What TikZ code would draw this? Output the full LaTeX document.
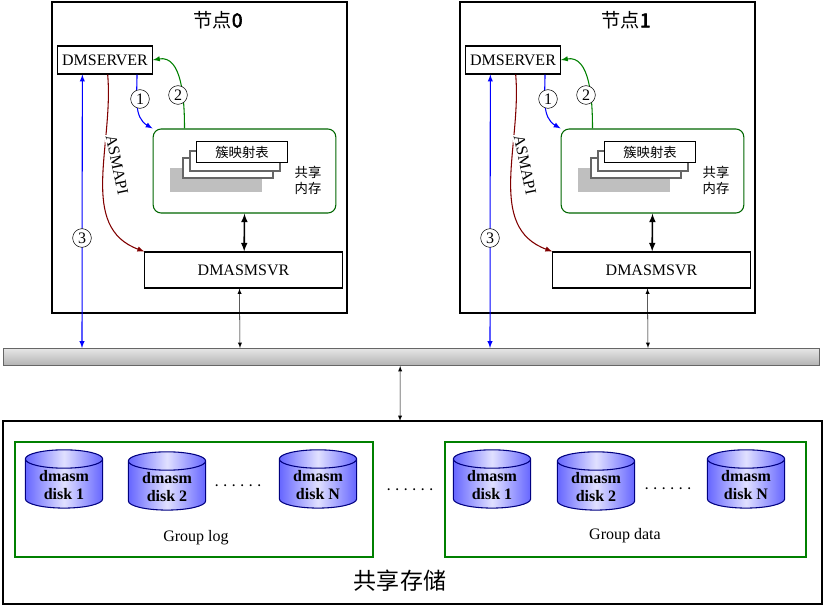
\documentclass[tikz,border=0pt]{standalone}
\usepackage{fontspec}
\setmainfont{Liberation Serif}
\newfontfamily\cjk{Noto Sans CJK SC}
\newfontfamily\cjkb{Noto Sans CJK SC}[AutoFakeBold=3]
\usetikzlibrary{shapes.geometric}
\usetikzlibrary{positioning}

\begin{document}
\begin{tikzpicture}[x=0.75pt,y=-0.75pt,
        host/.style={rectangle, draw=black, line width=1.4pt},
        proc/.style={rectangle, draw=black, fill=white, thick, font=\large},
        shm/.style={rectangle, rounded corners=6pt, draw=green!40!black, thick},
        card/.style={rectangle, draw=black, fill=white, minimum width=68pt, minimum height=15pt, font=\cjk\normalsize},
        stepmark/.style={circle, draw=black, fill=white, inner sep=0.5pt, minimum size=14pt, font=\large},
        disk/.style={cylinder, shape border rotate=90, aspect=0.35, draw=blue!50!black, thick, left color=blue!60, right color=blue!60, middle color=blue!12, minimum width=58pt, minimum height=42pt, align=center, font=\bfseries\large, inner sep=1pt},
        group/.style={rectangle, draw=green!50!black, thick},
        link/.style={<->, >=latex, black}
      ]
        \useasboundingbox (0,0) rectangle (824,606);

        \foreach \i/\dx in {0/0, 1/408} {
          \begin{scope}[xshift=\dx*0.75pt]
            \draw[host] (52,2) rectangle (347,313);
            \node[font=\cjkb\Large] (title\i) at (218,20) {节点\textbf{\i}};
            \node[proc, minimum width=70pt, minimum height=21pt] (srv\i) at (105,60) {DMSERVER};
            \node[shm, minimum width=137pt, minimum height=63pt] (shm\i) at (244.5,171) {};
            \node[font=\cjk\normalsize, align=center] (shmlabel\i) at (308,180) {共享\\内存};
            \fill[black!25] (170,168) rectangle (262,192);
            \draw[black!60, fill=white, thick] (183,158) rectangle (273,178);
            \draw[black!60, fill=white, thick] (190,151) rectangle (280,171);
            \node[card] (map\i) at (242,152) {簇映射表};
            \node[proc, minimum width=148pt, minimum height=27pt] (asm\i) at (243.5,270) {DMASMSVR};

            \coordinate (bus\i a) at (82,348);
            \coordinate (bus\i b) at (240,348);

            \draw[blue, thick, ->, >=latex] ([xshift=24pt]srv\i.south) to[out=-90, in=150] (shm\i.north west);
            \node[stepmark] (s1\i) at (140,99) {1};
            \draw[green!50!black, thick, ->, >=latex] ([xshift=-45pt]shm\i.north) to[out=90, in=10] (srv\i.east);
            \node[stepmark] (s2\i) at (178,95) {2};
            \draw[red!50!black, thick, ->, >=latex] ([xshift=2pt]srv\i.south) to[out=-85, in=160] (asm\i.north west);
            \node[rotate=-78, fill=white, inner sep=1pt, font=\large] (api\i) at (117,165) {ASMAPI};
            \draw[blue, thick, <->, >=latex] (bus\i a) -- ([xshift=-17pt]srv\i.south);
            \node[stepmark] (s3\i) at (82,238) {3};
            \draw[link, very thick] (shm\i.south) -- ([xshift=0.5pt]asm\i.north);
            \draw[link] (bus\i b) -- ([xshift=-3pt]asm\i.south);
          \end{scope}
        }

        % bus
        \node[rectangle, draw=black!60, top color=black!10, bottom color=black!30, minimum width=612pt, minimum height=13pt, inner sep=0pt] (bus) at (411.5,357) {};
        % storage
        \draw[host] (3,421) rectangle (822,604);
        \draw[link] ([xshift=-8.5pt]bus.south) -- (400,421);
        \node[font=\cjk\LARGE] (store) at (400,581) {共享存储};

        \draw[group] (15,442) rectangle (373,557);
        \draw[group] (445,442) rectangle (806,557);
        \node[font=\large] (glog) at (196,538) {Group log};
        \node[font=\large] (gdata) at (625,536) {Group data};

        \node[disk] (d1) at (64,485) {dmasm\\disk 1};
        \node[disk] (d2) at (167,487) {dmasm\\disk 2};
        \node[disk] (dn) at (318,485) {dmasm\\disk N};
        \node[disk] (e1) at (492,485) {dmasm\\disk 1};
        \node[disk] (e2) at (596,487) {dmasm\\disk 2};
        \node[disk] (en) at (746,485) {dmasm\\disk N};
        \node[font=\Large\bfseries] (dots1) at (238,486) {$\cdots\cdots$};
        \node[font=\Large\bfseries] (dots2) at (410,490) {$\cdots\cdots$};
        \node[font=\Large\bfseries] (dots3) at (668,489) {$\cdots\cdots$};
      \end{tikzpicture}
\end{document}
